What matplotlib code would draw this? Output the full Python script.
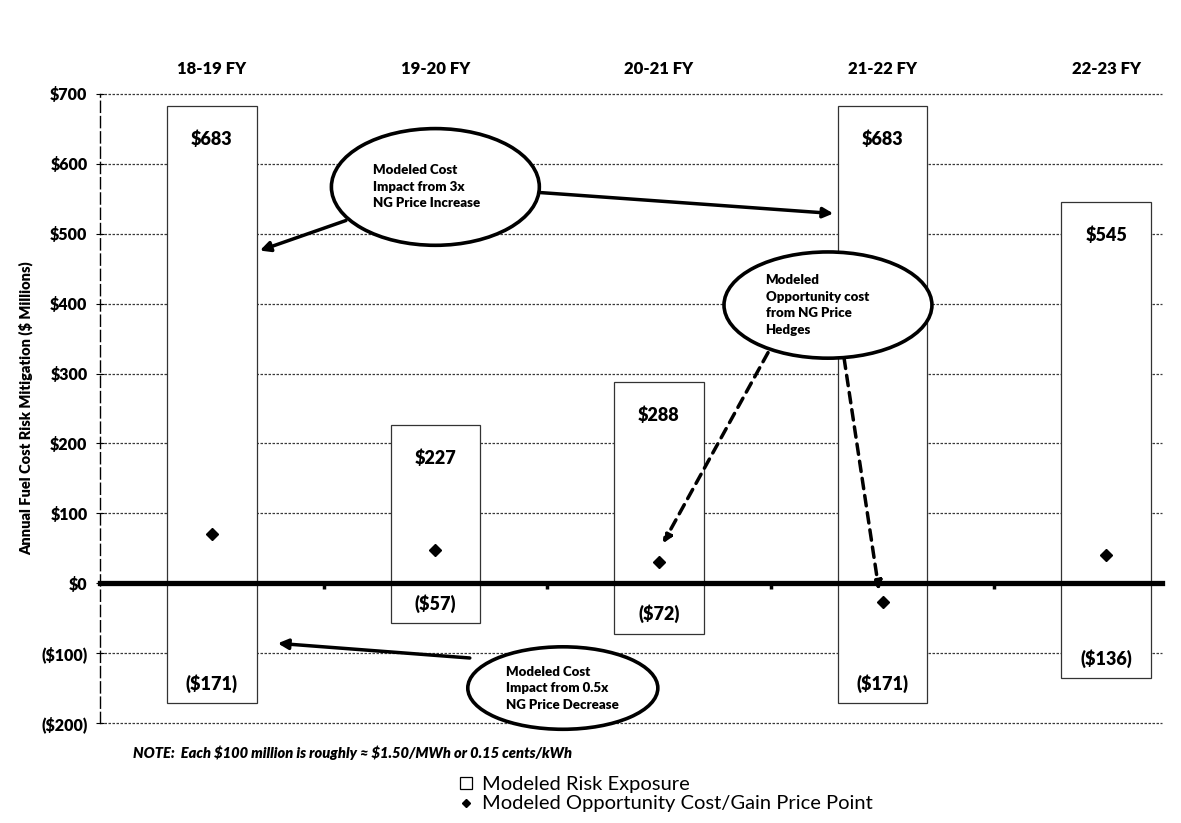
import matplotlib.pyplot as plt
from matplotlib.patches import Ellipse, Rectangle
from matplotlib.lines import Line2D
import numpy as np

plt.rcParams['font.family'] = ['Lato', 'DejaVu Sans']

years = ['18-19 FY', '19-20 FY', '20-21 FY', '21-22 FY', '22-23 FY']
risk_high = [683, 227, 288, 683, 545]
risk_low = [-171, -57, -72, -171, -136]
price_point = [70, 47, 31, -27, 40]
yticks = [700, 600, 500, 400, 300, 200, 100, 0, -100, -200]


def money(v):
    # accounting style: negatives in brackets
    if v < 0:
        return '(${0})'.format(-v)
    return '${0}'.format(v)


fig = plt.figure(figsize=(11.81, 8.23), dpi=100)
ax = fig.add_axes([100/1181, 1-723/823, 1062/1181, (723-94)/823])

x = np.arange(len(years))
bw = 0.4

# white boxes hide the grid, like in the original
for i in range(len(years)):
    ax.bar(x[i], risk_high[i] - risk_low[i], bw, bottom=risk_low[i],
           facecolor='white', edgecolor='#333333', lw=0.9, zorder=1)
    ax.annotate(money(risk_high[i]), (x[i], risk_high[i]), xytext=(0, -24),
                textcoords='offset points', ha='center', va='center',
                fontsize=13, fontweight='heavy', zorder=3)
    ax.annotate(money(risk_low[i]), (x[i], risk_low[i]), xytext=(0, 14),
                textcoords='offset points', ha='center', va='center',
                fontsize=13, fontweight='heavy', zorder=3)

ax.plot(x, price_point, 'D', color='black', markersize=6.5, ls='none', zorder=4)

ax.set_xlim(-0.5, 4.25)
ax.set_ylim(-200, 700)
ax.set_yticks(yticks)
ax.set_yticklabels([money(v) for v in yticks], fontsize=11.5, fontweight='heavy')
ax.tick_params(axis='y', direction='inout', length=6, width=0.8, pad=6)

ax.set_axisbelow(True)
ax.yaxis.grid(True, color='#3a3a3a', lw=0.9, ls=(0, (2, 1.2)))
for gl in ax.get_ygridlines():
    gl.set_clip_on(False)

# zero line carries the boundary ticks
ax.spines['bottom'].set_position(('data', 0))
ax.spines['bottom'].set_linewidth(3.8)
ax.spines['bottom'].set_zorder(3)
ax.set_xticks(np.arange(0.5, 4, 1))
ax.set_xticklabels([])
ax.tick_params(axis='x', direction='out', length=4, width=2.5)
ax.spines['top'].set_visible(False)
ax.spines['right'].set_visible(False)
ax.spines['left'].set_linestyle((0, (8, 3)))
ax.spines['left'].set_linewidth(1.0)

top = ax.secondary_xaxis('top')
top.set_xticks(x)
top.set_xticklabels(years, fontsize=12, fontweight='heavy')
top.tick_params(length=0, pad=12)
top.spines['top'].set_visible(False)

ax.set_ylabel('Annual Fuel Cost Risk Mitigation (\\$ Millions)', fontsize=10.5,
              fontweight='heavy', labelpad=6)

# callout ellipses
callouts = [
    ((1.00, 567), 0.93, 167, 'Modeled Cost\nImpact from 3x\nNG Price Increase'),
    ((2.756, 398), 0.93, 152, 'Modeled\nOpportunity cost\nfrom NG Price\nHedges'),
    ((1.57, -150), 0.85, 118, 'Modeled Cost\nImpact from 0.5x\nNG Price Decrease'),
]
for (cx, cy), w, h, txt in callouts:
    ax.add_patch(Ellipse((cx, cy), w, h, facecolor='white', edgecolor='black',
                         lw=2.6, zorder=5, clip_on=False))
    ax.text(cx - w * 0.3, cy, txt, fontsize=9.5, fontweight='heavy', ha='left',
            va='center', linespacing=1.45, zorder=6)

solid = dict(arrowstyle='-|>,head_length=0.6,head_width=0.3', color='black', lw=2.5,
             shrinkA=0, shrinkB=0)
ax.annotate('', xy=(0.215, 476), xytext=(0.60, 519), arrowprops=solid, zorder=4)
ax.annotate('', xy=(2.78, 529), xytext=(1.468, 559), arrowprops=solid, zorder=4)
ax.annotate('', xy=(0.295, -86), xytext=(1.154, -107), arrowprops=solid,
            annotation_clip=False, zorder=4)

dashed = dict(arrowstyle='-|>,head_length=0.5,head_width=0.25', color='black', lw=2.5,
              ls=(0, (3, 2)), shrinkA=0, shrinkB=0)
ax.annotate('', xy=(2.018, 57), xytext=(2.488, 330), arrowprops=dashed, zorder=4)
ax.annotate('', xy=(2.984, -10), xytext=(2.828, 322), arrowprops=dashed, zorder=4)

fig.text(133/1181, 1-753/823,
         'NOTE:  Each \\$100 million is roughly \u2248 \\$1.50/MWh or 0.15 cents/kWh',
         fontsize=10.5, fontweight='heavy', style='italic', va='center')

handles = [Rectangle((0, 0), 1, 1, facecolor='white', edgecolor='black', lw=0.9),
           Line2D([], [], marker='D', color='black', ls='none', markersize=4.5)]
fig.legend(handles, ['Modeled Risk Exposure', 'Modeled Opportunity Cost/Gain Price Point'],
           loc='upper left', bbox_to_anchor=(460/1181, 1-776/823), frameon=False,
           fontsize=14.5, handlelength=0.6, handleheight=0.6, handletextpad=0.5,
           labelspacing=0.12, borderpad=0, borderaxespad=0)

fig.savefig('out.png', dpi=100)
